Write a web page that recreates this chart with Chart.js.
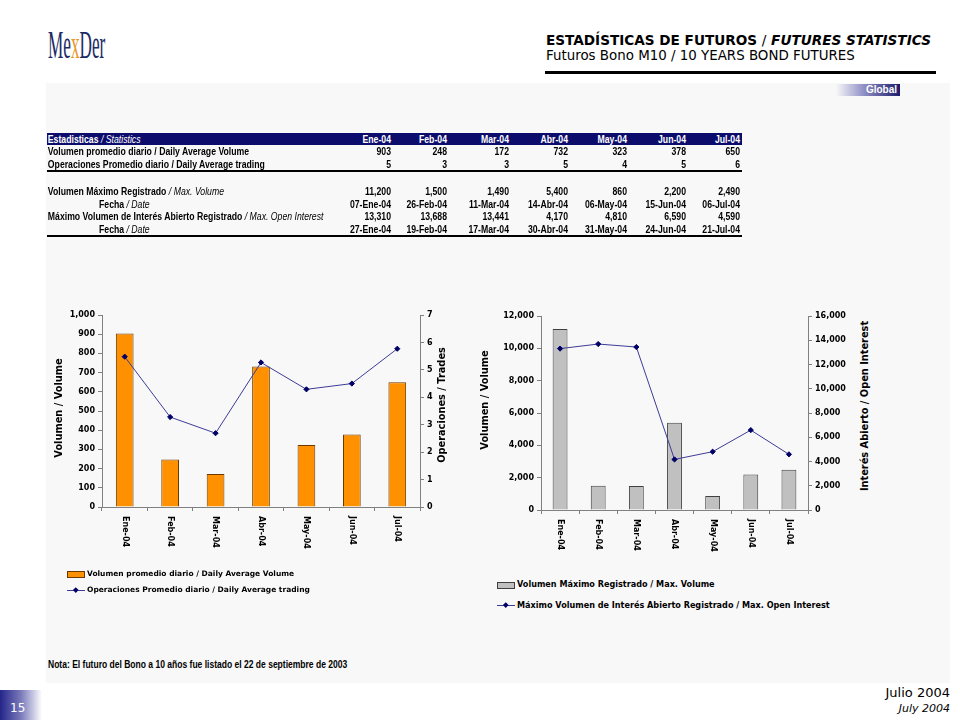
<!DOCTYPE html>
<html><head><meta charset="utf-8">
<script src="https://cdn.jsdelivr.net/npm/chart.js@4.4.1/dist/chart.umd.min.js"></script>
<style>
html,body{margin:0;padding:0;background:#fff;width:960px;height:720px;overflow:hidden;position:relative;}
.abs{position:absolute;white-space:nowrap;}
.arial{font-family:"Liberation Sans",Arial,sans-serif;}
.tah{font-family:"DejaVu Sans",sans-serif;}
.verd{font-family:"DejaVu Sans",sans-serif;font-weight:bold;}
#tbl{position:absolute;left:47px;top:133px;width:847.56px;transform:scaleX(0.82);transform-origin:left top;}
#tbl .row{position:relative;height:12.5px;line-height:12.5px;font-size:10.6px;font-weight:bold;color:#000;}
#tbl .cell{position:absolute;top:0;text-align:right;}
#tbl .lab{position:absolute;left:1px;top:0;}
#tbl i{font-weight:normal;}
.vt{position:absolute;transform:translate(-50%,-50%) rotate(-90deg);font-size:9.8px;white-space:nowrap;}
.leg{position:absolute;line-height:10px;}
</style></head>
<body>
<!-- header -->
<div class="abs" style="left:48px;top:21px;font-family:'Liberation Serif',serif;font-size:40px;color:#1c2b66;transform:scaleX(0.43);transform-origin:left top;">Me<span style="color:#e8962a">x</span>Der</div>
<div class="abs tah" style="left:546px;top:32px;font-size:13.6px;font-weight:bold;color:#000;">ESTADÍSTICAS DE FUTUROS <span style="font-weight:normal">/</span> <i>FUTURES STATISTICS</i></div>
<div class="abs tah" style="left:546px;top:48px;font-size:13.4px;color:#000;">Futuros Bono M10 / 10 YEARS BOND FUTURES</div>
<div class="abs" style="left:545px;top:71px;width:391px;height:3px;background:#000;"></div>

<!-- panel -->
<div class="abs" style="left:46px;top:83px;width:904px;height:600px;background:#f8f8f8;"></div>
<div class="abs" style="left:836px;top:84px;width:61px;height:12px;padding-right:3px;background:linear-gradient(to right,rgba(248,248,248,0),#8c8cc4 45%,#1c1c6c);color:#fff;font:bold 10px 'Liberation Sans',sans-serif;text-align:right;line-height:12px;">Global</div>

<!-- table -->
<div id="tbl" class="arial"></div>

<!-- charts -->
<canvas id="c1" class="abs" style="left:50px;top:305px;width:410px;height:250px;" width="410" height="250"></canvas>
<canvas id="c2" class="abs" style="left:480px;top:305px;width:375px;height:250px;" width="375" height="250"></canvas>

<div class="vt verd" style="left:58px;top:408px;">Volumen / Volume</div>
<div class="vt verd" style="left:441px;top:405px;">Operaciones / Trades</div>
<div class="vt verd" style="left:484px;top:400px;">Volumen / Volume</div>
<div class="vt verd" style="left:864px;top:406px;">Interés Abierto / Open Interest</div>

<!-- legends -->
<div class="abs" style="left:67px;top:571px;width:16px;height:5px;background:#ff9000;border:1px solid #6a3a00;"></div>
<div class="leg verd" style="left:87px;top:569px;font-size:7.5px;">Volumen promedio diario / Daily Average Volume</div>
<div class="abs" style="left:67px;top:590px;width:18px;height:1px;background:#3c3c96;"></div>
<div class="abs" style="left:74px;top:588px;width:3.5px;height:3.5px;background:#000066;transform:rotate(45deg);"></div>
<div class="leg verd" style="left:87px;top:585px;font-size:7.5px;">Operaciones Promedio diario / Daily Average trading</div>

<div class="abs" style="left:497px;top:582px;width:16px;height:5px;background:#c0c0c0;border:1px solid #404040;"></div>
<div class="leg verd" style="left:517px;top:579px;font-size:8.1px;">Volumen Máximo Registrado / Max. Volume</div>
<div class="abs" style="left:497px;top:605px;width:18px;height:1px;background:#3c3c96;"></div>
<div class="abs" style="left:504px;top:603px;width:3.5px;height:3.5px;background:#000066;transform:rotate(45deg);"></div>
<div class="leg verd" style="left:517px;top:600px;font-size:8.1px;">Máximo Volumen de Interés Abierto Registrado / Max. Open Interest</div>

<div class="abs arial" style="left:48px;top:659px;font-size:10.4px;font-weight:bold;transform:scaleX(0.82);transform-origin:left top;">Nota: El futuro del Bono a 10 años fue listado el 22 de septiembre de 2003</div>

<!-- footer -->
<div class="abs" style="left:0;top:690px;width:42px;height:30px;background:linear-gradient(to right,#25258a,#7a7abb 50%,rgba(255,255,255,0));"></div>
<div class="abs tah" style="left:10px;top:701px;font-size:12px;color:#fff;">15</div>
<div class="abs tah" style="right:10px;top:685px;font-size:13px;color:#000;">Julio 2004</div>
<div class="abs tah" style="right:10px;top:702px;font-size:11px;color:#000;font-style:italic;">July 2004</div>

<script>
const months = ['Ene-04','Feb-04','Mar-04','Abr-04','May-04','Jun-04','Jul-04'];
const avgVolume = [903,248,172,732,323,378,650];
const avgTradesTable = [5,3,3,5,4,5,6];
const avgTradesLine = [5.48,3.28,2.69,5.27,4.29,4.50,5.77];
const maxVolume = [11200,1500,1490,5400,860,2200,2490];
const maxVolumeDate = ['07-Ene-04','26-Feb-04','11-Mar-04','14-Abr-04','06-May-04','15-Jun-04','06-Jul-04'];
const maxOpenInterest = [13310,13688,13441,4170,4810,6590,4590];
const maxOpenInterestDate = ['27-Ene-04','19-Feb-04','17-Mar-04','30-Abr-04','31-May-04','24-Jun-04','21-Jul-04'];

const fmt = v => Number(v).toLocaleString('en-US');

// ---- table (coordinates in unscaled space; container is scaled 0.82 horizontally) ----
const SX = 0.82, TW = 695 / SX;
const colRight = [344, 400, 462, 521, 580, 639, 693].map(v => v / SX);
function row(label, vals, opts = {}) {
  const d = document.createElement('div');
  d.className = 'row';
  if (opts.style) d.setAttribute('style', opts.style);
  let h = `<span class="lab" style="${opts.labStyle || ''}">${label}</span>`;
  vals.forEach((v, i) => {
    h += `<span class="cell" style="right:${TW - colRight[i]}px">${v}</span>`;
  });
  d.innerHTML = h;
  document.getElementById('tbl').appendChild(d);
}
row('Estadisticas <i>/ Statistics</i>', months, {style:'background:#0c0c6c;color:#fff;height:12px;line-height:12px;'});
row('Volumen promedio diario / Daily Average Volume', avgVolume.map(fmt));
row('Operaciones Promedio diario / Daily Average trading', avgTradesTable.map(fmt), {style:'border-bottom:2px solid #000;'});
row('', [], {style:'height:13px;'});
row('Volumen Máximo Registrado <i>/ Max. Volume</i>', maxVolume.map(fmt));
row('Fecha <i>/ Date</i>', maxVolumeDate, {labStyle:'left:' + (52 / SX) + 'px;'});
row('Máximo Volumen de Interés Abierto Registrado <i>/ Max. Open Interest</i>', maxOpenInterest.map(fmt));
row('Fecha <i>/ Date</i>', maxOpenInterestDate, {labStyle:'left:' + (52 / SX) + 'px;', style:'border-bottom:2px solid #000;'});

// ---- charts ----
const AX = '#808080';
const tickFont = {family: '"DejaVu Sans"', size: 8, weight: 'bold'};

const vertLabels = {
  id: 'vertLabels',
  afterDraw(chart) {
    const xs = chart.scales.x, ctx = chart.ctx;
    ctx.save();
    ctx.font = 'bold 8px "DejaVu Sans"';
    ctx.fillStyle = '#000';
    ctx.textAlign = 'left';
    ctx.textBaseline = 'middle';
    chart.data.labels.forEach((l, i) => {
      const x = xs.getPixelForValue(i);
      ctx.save();
      ctx.translate(x, xs.top + 9);
      ctx.rotate(Math.PI / 2);
      ctx.fillText(l, 0, 0);
      ctx.restore();
    });
    ctx.restore();
  }
};

function makeChart(id, bars, fill, border, line, yMax, yStep, y1Max, y1Step, wL, wR, padTop, xH) {
  return new Chart(document.getElementById(id), {
    data: {
      labels: months,
      datasets: [
        {type: 'line', data: line, yAxisID: 'y1', borderColor: '#3c3c96', borderWidth: 1,
         pointStyle: 'rectRot', pointRadius: 2.6, pointBackgroundColor: '#000066',
         pointBorderColor: '#000066', pointBorderWidth: 1, tension: 0, order: 1},
        {type: 'bar', data: bars, yAxisID: 'y', backgroundColor: fill, borderColor: border,
         borderWidth: 1, barPercentage: 0.39, categoryPercentage: 1, order: 2}
      ]
    },
    options: {
      responsive: false, animation: false, devicePixelRatio: 1,
      layout: {padding: {top: padTop, left: 0, right: 0, bottom: 0}},
      plugins: {legend: {display: false}, tooltip: {enabled: false}},
      scales: {
        x: {offset: true,
            grid: {display: true, drawOnChartArea: false, drawTicks: true, tickLength: 4, color: AX, offset: true},
            border: {color: AX, width: 1},
            ticks: {display: false},
            afterFit(s) { s.height = xH; }},
        y: {position: 'left', min: 0, max: yMax,
            ticks: {stepSize: yStep, font: tickFont, color: '#000', padding: 3, callback: v => fmt(v)},
            grid: {drawOnChartArea: false, tickLength: 4, color: AX},
            border: {color: AX, width: 1},
            afterFit(s) { s.width = wL; }},
        y1: {position: 'right', min: 0, max: y1Max,
            ticks: {stepSize: y1Step, font: tickFont, color: '#000', padding: 3, callback: v => fmt(v)},
            grid: {drawOnChartArea: false, tickLength: 4, color: AX},
            border: {color: AX, width: 1},
            afterFit(s) { s.width = wR; }}
      }
    },
    plugins: [vertLabels]
  });
}

makeChart('c1', avgVolume, '#ff9000', '#6a3a00', avgTradesLine, 1000, 100, 7, 1, 52, 40, 10, 48);
makeChart('c2', maxVolume, '#c0c0c0', '#404040', maxOpenInterest, 12000, 2000, 16000, 2000, 61, 47, 11, 45);
</script>
</body></html>
